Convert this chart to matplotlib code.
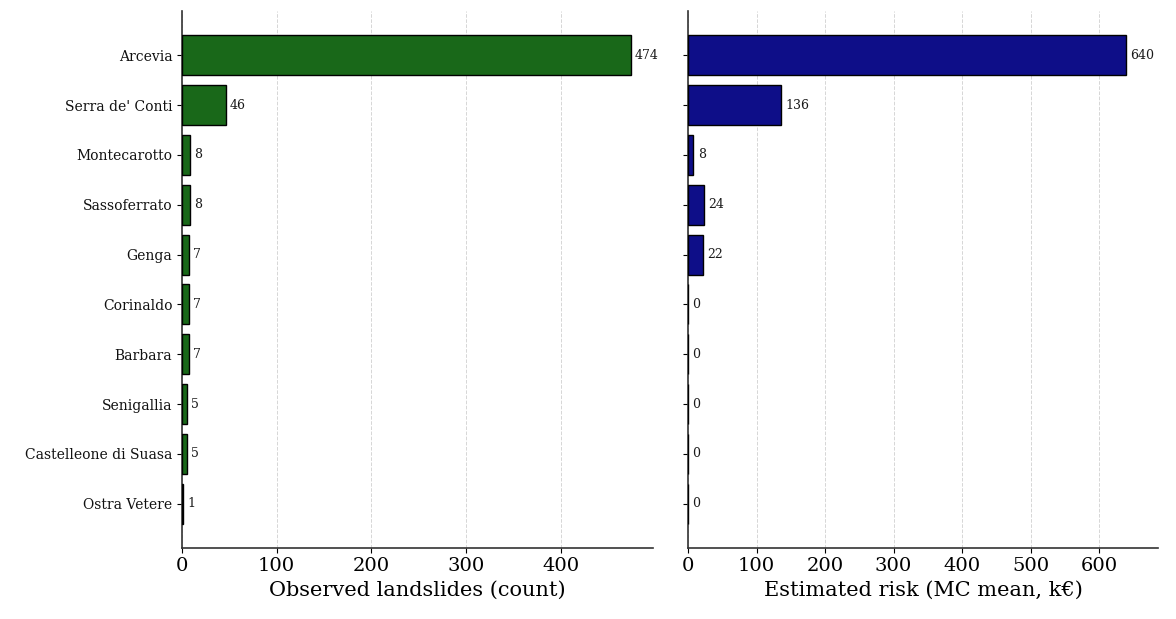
import matplotlib
matplotlib.use("Agg")
import matplotlib.pyplot as plt
import numpy as np

municipalities = ["Arcevia", "Serra de' Conti", "Montecarotto", "Sassoferrato",
                  "Genga", "Corinaldo", "Barbara", "Senigallia",
                  "Castelleone di Suasa", "Ostra Vetere"]
landslides = [474, 46, 8, 8, 7, 7, 7, 5, 5, 1]
risk_keur = [640, 136, 8, 24, 22, 0, 0, 0, 0, 0]

plt.rcParams["font.family"] = "DejaVu Serif"

W, H = 1176, 619
fig = plt.figure(figsize=(W / 100, H / 100), dpi=100)
fig.patch.set_facecolor("white")

bottom = (H - 548) / H
height = (548 - 11) / H
ax1 = fig.add_axes([182 / W, bottom, 471 / W, height])
ax2 = fig.add_axes([688 / W, bottom, 470 / W, height], sharey=ax1)

y = np.arange(len(municipalities))


def panel(ax, values, color, xlabel, headroom):
    ax.barh(y, values, height=0.8, color=color, edgecolor="black", linewidth=1.0, zorder=3)
    ax.set_xlim(0, max(values) * headroom)
    for yi, v in zip(y, values):
        ax.annotate(f"{v:d}", xy=(v, yi), xytext=(3, 0), textcoords="offset points",
                    va="center", ha="left", fontsize=9, color="#1a1a1a", zorder=4)
    ax.grid(axis="x", linestyle="--", color="#cccccc", linewidth=0.7, alpha=0.8, zorder=0)
    ax.set_axisbelow(True)
    for s in ("top", "right"):
        ax.spines[s].set_visible(False)
    for s in ("left", "bottom"):
        ax.spines[s].set_linewidth(1.2)
        ax.spines[s].set_color("#333333")
    ax.set_xlabel(xlabel, fontsize=15, labelpad=4)
    ax.tick_params(axis="x", labelsize=14, pad=3)


panel(ax1, landslides, "#196819", "Observed landslides (count)", 1.05)
panel(ax2, risk_keur, "#0e0e88", "Estimated risk (MC mean, k€)", 1.072)

ax1.set_yticks(y)
ax1.set_yticklabels(municipalities, fontsize=10, color="#111111")
ax1.invert_yaxis()
ax2.tick_params(axis="y", labelleft=False)

fig.savefig("out.png", dpi=100, facecolor="white")
